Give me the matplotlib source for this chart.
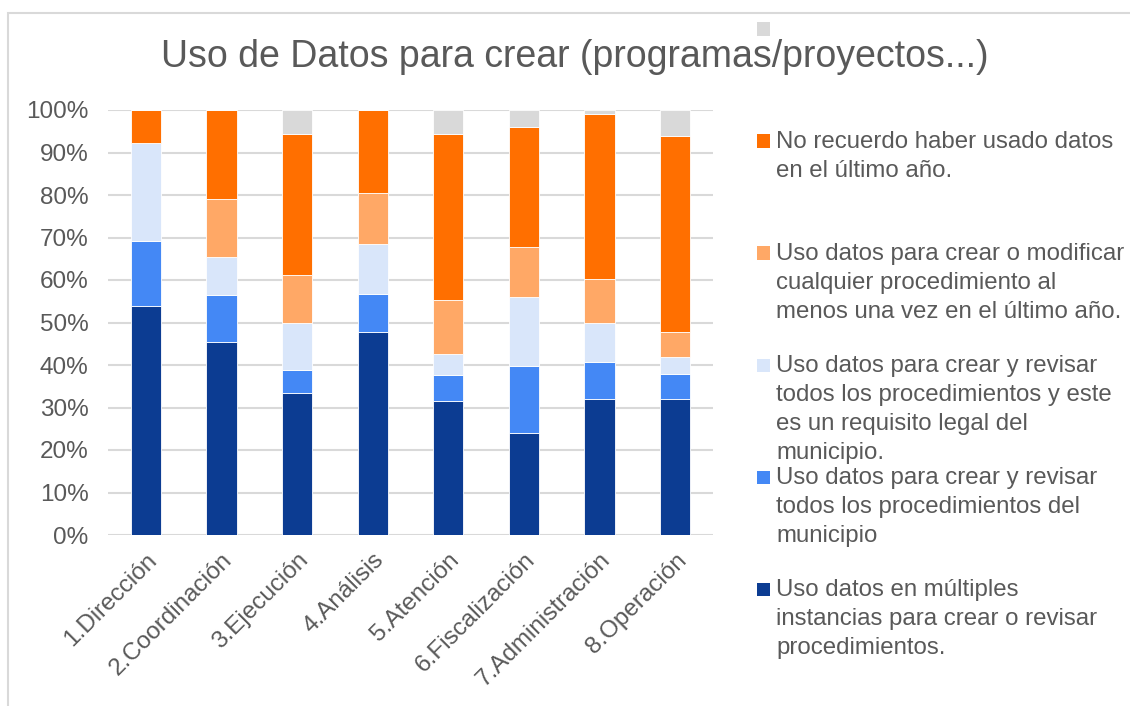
import matplotlib
matplotlib.use("Agg")
import matplotlib.pyplot as plt
import matplotlib.patches as mpatches
import numpy as np

plt.rcParams["font.family"] = ["Liberation Sans", "DejaVu Sans"]

# ---------------------------------------------------------------- datos
categorias = ["1.Dirección", "2.Coordinación", "3.Ejecución", "4.Análisis",
              "5.Atención", "6.Fiscalización", "7.Administración", "8.Operación"]

multiples = [53.8, 45.5, 33.3, 47.8, 31.6, 23.9, 31.9, 31.9]
todos_mun = [15.4, 10.9, 5.6, 8.8, 6.0, 15.9, 8.8, 6.1]
req_legal = [23.1, 9.1, 11.1, 11.9, 5.0, 16.2, 9.2, 4.0]
modificar = [0.0, 13.6, 11.1, 11.9, 12.8, 11.8, 10.3, 5.8]
no_recuerdo = [7.7, 20.9, 33.3, 19.6, 39.0, 28.1, 38.8, 46.0]
sin_resp = [0.0, 0.0, 5.6, 0.0, 5.6, 4.1, 1.0, 6.2]

series = [multiples, todos_mun, req_legal, modificar, no_recuerdo, sin_resp]
etiquetas = [
    "Uso datos en múltiples\ninstancias para crear o revisar\nprocedimientos.",
    "Uso datos para crear y revisar\ntodos los procedimientos del\nmunicipio",
    "Uso datos para crear y revisar\ntodos los procedimientos y este\nes un requisito legal del\nmunicipio.",
    "Uso datos para crear o modificar\ncualquier procedimiento al\nmenos una vez en el último año.",
    "No recuerdo haber usado datos\nen el último año.",
    "",
]
colores = ["#0C3C92", "#4488F5", "#D9E6FA", "#FFA866", "#FF6F00", "#D9D9D9"]

# ---------------------------------------------------------------- figura
W, H = 1130, 706
fig = plt.figure(figsize=(W / 100, H / 100), dpi=100)
ax = fig.add_axes([108 / W, 1 - 535 / H, (713 - 108) / W, (535 - 110) / H])

x = np.arange(len(categorias))
base = np.zeros(len(categorias))
for vals, col in zip(series, colores):
    ax.bar(x, vals, 0.4, bottom=base, color=col, edgecolor="white",
           linewidth=0.6, zorder=3)
    base += np.array(vals)

ax.set_xlim(-0.5, len(categorias) - 0.5)
ax.set_ylim(0, 100)
ax.set_yticks(np.arange(0, 101, 10))
ax.set_yticklabels([f"{v}%" for v in range(0, 101, 10)])
ax.grid(axis="y", color="#D9D9D9", lw=1.5, zorder=0)
for s in ax.spines.values():
    s.set_visible(False)
ax.tick_params(axis="both", length=0, labelsize=17.5, labelcolor="#595959")
ax.tick_params(axis="y", pad=14)
ax.set_xticks(x)
ax.set_xticklabels(categorias, rotation=45, ha="right", rotation_mode="anchor")
ax.tick_params(axis="x", pad=10)

fig.text(575 / W, 1 - 57 / H, "Uso de Datos para crear (programas/proyectos...)",
         ha="center", va="center", fontsize=27, color="#595959")

# leyenda (de arriba hacia abajo, orden inverso a la pila)
for i, (lab, col) in enumerate(zip(etiquetas[::-1], colores[::-1])):
    yc = 29 + i * 112
    fig.patches.append(mpatches.Rectangle(
        (757 / W, 1 - (yc + 6.5) / H), 13 / W, 13 / H,
        transform=fig.transFigure, facecolor=col, edgecolor="none"))
    if lab:
        fig.text(776 / W, 1 - (yc - 10) / H, lab, ha="left", va="top",
                 fontsize=17.3, color="#595959", linespacing=1.42)

# marco del gráfico
fig.patches.append(mpatches.Rectangle(
    (8 / W, -0.1), 1.2, 1.1 - 13 / H, transform=fig.transFigure,
    facecolor="none", edgecolor="#D9D9D9", lw=1.5))

fig.savefig("out.png", dpi=100)
